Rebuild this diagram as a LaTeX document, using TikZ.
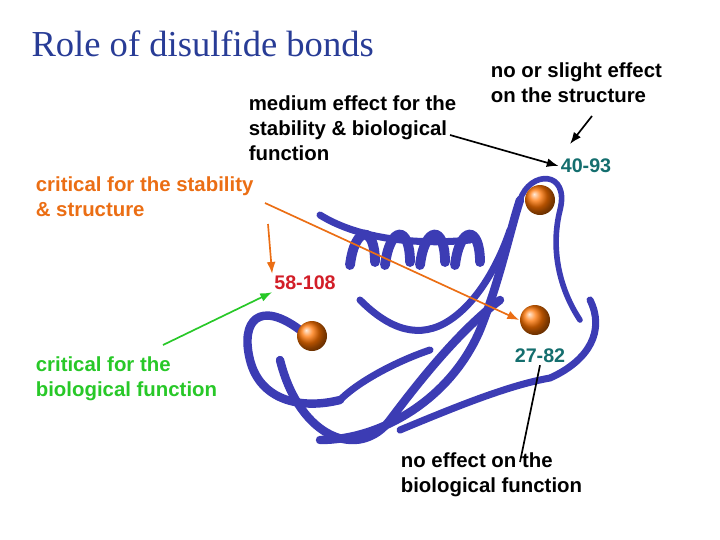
\documentclass[tikz,border=0pt]{standalone}
\usepackage{fontspec}
\setmainfont{Liberation Serif}
\setsansfont{Liberation Sans}
\usetikzlibrary{arrows.meta, positioning}
\definecolor{titleblue}{RGB}{40,60,150}
\definecolor{ribbon}{RGB}{60,60,180}
\definecolor{teal}{RGB}{20,110,110}
\definecolor{crit}{RGB}{235,110,20}
\definecolor{bio}{RGB}{40,200,40}
\definecolor{ssred}{RGB}{210,30,40}

\begin{document}
\begin{tikzpicture}[x=0.025cm, y=-0.025cm, >=Latex, line width=1.2pt,
    lbl/.style={font=\sffamily\bfseries\fontsize{14.5}{17.8}\selectfont, align=left, inner sep=0pt, anchor=north west},
    pair/.style={font=\sffamily\bfseries\fontsize{14}{16}\selectfont, inner sep=1pt},
    strand/.style={draw=ribbon, line width=#1, line cap=round},
    sulfur/.style={circle, minimum size=0.75cm, inner sep=0pt, ball color=orange!90!red, draw=none}]
    % frame
    \useasboundingbox (0,0) rectangle (720,539);

    % Title
    \node [anchor=west, text=titleblue, font=\fontsize{26}{30}\selectfont] (title) at (26,44) {Role of disulfide bonds};

    % Ribbon sketch
    \draw[strand=5pt] (320,215) .. controls (360,240) and (420,245) .. (470,240);
    \foreach \cx in {350,385,420,455}
        \draw[strand=7pt] (\cx,265) .. controls (\cx+5,225) and (\cx+25,225) .. (\cx+25,262);
    \draw[strand=6pt] (300,330) .. controls (260,300) and (240,320) .. (250,360) .. controls (260,400) and (300,410) .. (340,400);
    \draw[strand=6pt] (280,360) .. controls (300,440) and (360,460) .. (390,420) .. controls (420,380) and (460,330) .. (500,300);
    \draw[strand=6pt] (320,440) .. controls (380,440) and (450,400) .. (480,330) .. controls (500,280) and (510,230) .. (520,200);
    \draw[strand=5pt] (400,430) .. controls (460,405) and (510,385) .. (550,378) .. controls (590,360) and (605,330) .. (590,300);
    \draw[strand=4pt] (520,200) .. controls (530,170) and (570,170) .. (560,210) .. controls (550,250) and (560,290) .. (580,320);
    \draw[strand=5pt] (360,300) .. controls (390,330) and (420,340) .. (450,320) .. controls (480,300) and (500,260) .. (510,230);
    \draw[strand=5pt] (340,400) .. controls (360,380) and (400,360) .. (430,350);

    % Disulfide spheres
    \node [sulfur] (s4093) at (540,200) {};
    \node [sulfur] (s58108) at (312,336) {};
    \node [sulfur] (s2782) at (535,320) {};

    % Bond labels
    \node [pair, text=teal] (b4093) at (586,166) {40-93};
    \node [pair, text=ssred] (b58108) at (305,283) {58-108};
    \node [pair, text=teal] (b2782) at (540,356) {27-82};

    % Effect labels
    \node [lbl] (slight) at (490,62) {no or slight effect\\on the structure};
    \node [lbl] (medium) at (248,95) {medium effect for the\\stability \& biological\\function};
    \node [lbl, text=crit] (stab) at (35,176) {critical for the stability\\\& structure};
    \node [lbl, text=bio] (biof) at (35,356) {critical for the\\biological function};
    \node [lbl] (noeff) at (400,452) {no effect on the\\biological function};

    % Pointers
    \coordinate (slightTip) at (570,144);
    \coordinate (stabA) at (268,224);
    \coordinate (stabB) at (265,203);
    \draw[->] (592,116) -- (slightTip);
    \draw[->] (450,135) -- (b4093.west);
    \draw[->, crit] (stabA) -- (b58108.north west);
    \draw[->, crit] (stabB) -- (s2782.west);
    \draw[->, bio] (163,345) -- (b58108.south west);
    \draw (520,462) -- (b2782.south);
\end{tikzpicture}
\end{document}
